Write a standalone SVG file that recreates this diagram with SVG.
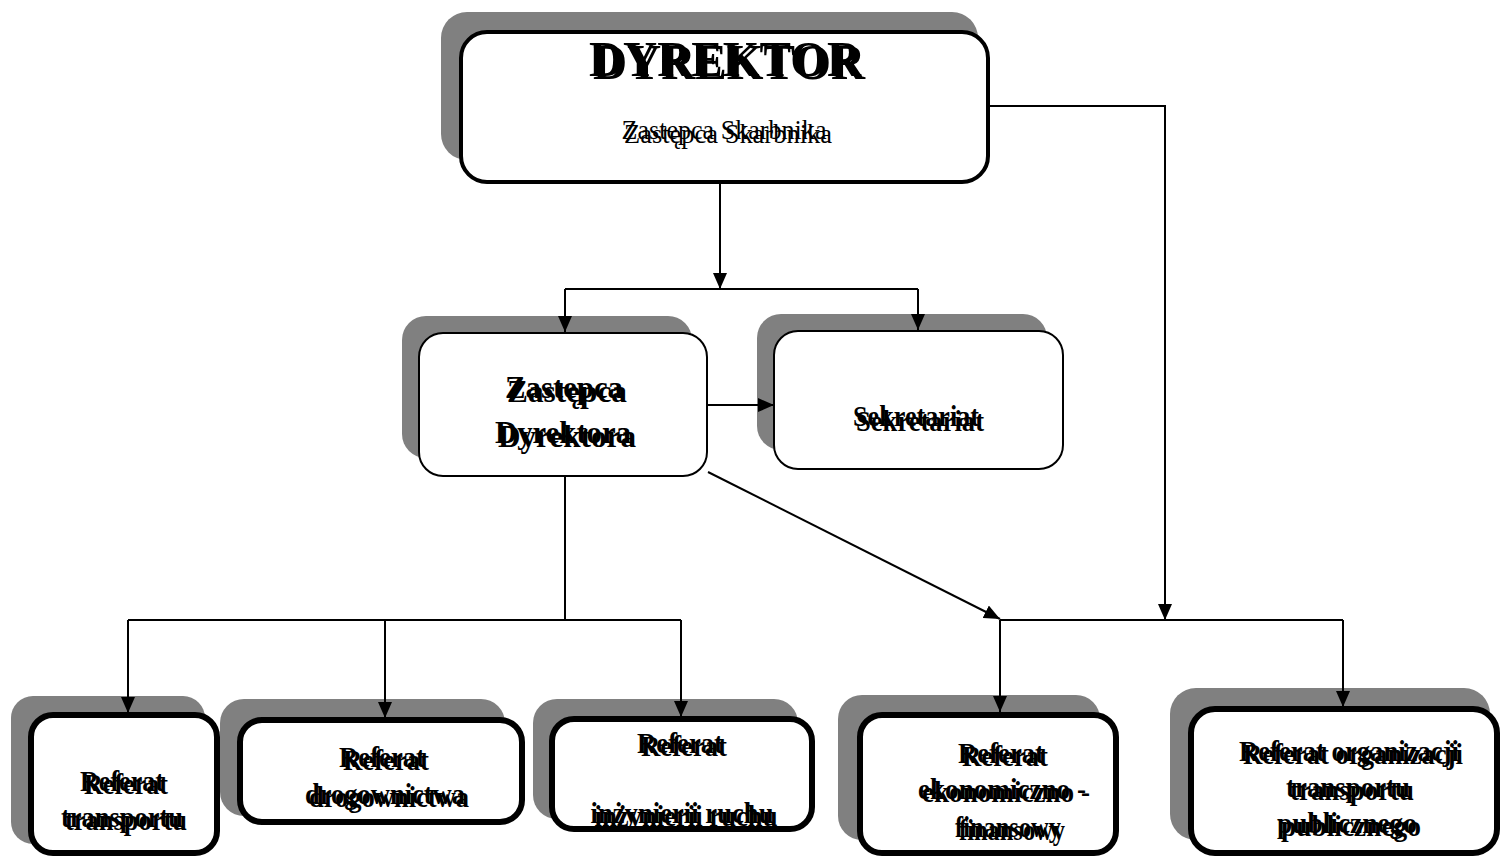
<svg xmlns="http://www.w3.org/2000/svg" width="1504" height="859" viewBox="0 0 1504 859">
<style>
.sh{fill:#808080;stroke:none}
.bx{fill:#fff;stroke:#000}
.b4{stroke-width:4}
.b2{stroke-width:2}
.b6{stroke-width:6}
.t{font-family:"Liberation Serif","Times New Roman",serif;fill:#000;text-anchor:middle}
.bd{font-weight:bold}
.ln{fill:none;stroke:#000;stroke-width:2}
</style>
<defs>
<marker id="ah" markerUnits="userSpaceOnUse" markerWidth="16" markerHeight="14" viewBox="0 0 16 14" refX="16" refY="7" orient="auto">
<path d="M0,0 L16,7 L0,14 Z" fill="#000"/>
</marker>
</defs>
<rect width="1504" height="859" fill="#fff"/>

<g id="dyrektor">
<rect class="sh" x="441" y="12" width="537" height="148" rx="26"/>
<rect class="bx b4" x="461" y="32" width="527" height="150" rx="26"/>
<text class="t bd" x="725" y="76" font-size="50" textLength="272" lengthAdjust="spacingAndGlyphs">DYREKTOR</text>
<text class="t bd" x="729" y="79" font-size="50" textLength="272" lengthAdjust="spacingAndGlyphs">DYREKTOR</text>
<text class="t" x="724" y="139" font-size="28" textLength="205" lengthAdjust="spacingAndGlyphs">Zastepca Skarbnika</text>
<text class="t" x="728" y="143" font-size="28" textLength="208" lengthAdjust="spacingAndGlyphs">Zastępca Skarbnika</text>
</g>

<g id="zastepca">
<rect class="sh" x="402" y="316" width="290" height="142" rx="24"/>
<rect class="bx b2" x="419" y="333" width="288" height="143" rx="24"/>
<text class="t bd" x="564" y="398" font-size="32" textLength="118" lengthAdjust="spacingAndGlyphs">Zastepca</text>
<text class="t bd" x="567" y="402" font-size="32" textLength="120" lengthAdjust="spacingAndGlyphs">Zastępca</text>
<text class="t bd" x="563" y="443" font-size="32" textLength="136" lengthAdjust="spacingAndGlyphs">Dyrektora</text>
<text class="t bd" x="567" y="447" font-size="32" textLength="138" lengthAdjust="spacingAndGlyphs">Dyrektora</text>
</g>

<g id="sekretariat">
<rect class="sh" x="757" y="314" width="290" height="136" rx="24"/>
<rect class="bx b2" x="774" y="331" width="289" height="138" rx="24"/>
<text class="t bd" x="916" y="426" font-size="29" textLength="126" lengthAdjust="spacingAndGlyphs">Sekretariat</text>
<text class="t bd" x="920" y="431" font-size="29" textLength="128" lengthAdjust="spacingAndGlyphs">Sekretariat</text>
</g>

<g id="ref-transportu">
<rect class="sh" x="11" y="696" width="194" height="148" rx="22"/>
<rect class="bx b6" x="31" y="715" width="186" height="138" rx="22"/>
<text class="t bd" x="122" y="791" font-size="29" textLength="84" lengthAdjust="spacingAndGlyphs">Referat</text>
<text class="t bd" x="126" y="794" font-size="29" textLength="84" lengthAdjust="spacingAndGlyphs">Referat</text>
<text class="t bd" x="122" y="827" font-size="29" textLength="122" lengthAdjust="spacingAndGlyphs">transportu</text>
<text class="t bd" x="126" y="830" font-size="29" textLength="122" lengthAdjust="spacingAndGlyphs">transportu</text>
</g>

<g id="ref-drogownictwa">
<rect class="sh" x="220" y="699" width="285" height="117" rx="24"/>
<rect class="bx b6" x="240" y="720" width="282" height="102" rx="22"/>
<text class="t bd" x="382" y="767" font-size="29" textLength="86" lengthAdjust="spacingAndGlyphs">Referat</text>
<text class="t bd" x="386" y="770" font-size="29" textLength="86" lengthAdjust="spacingAndGlyphs">Referat</text>
<text class="t bd" x="385" y="804" font-size="29" textLength="160" lengthAdjust="spacingAndGlyphs">drogownictwa</text>
<text class="t bd" x="389" y="807" font-size="29" textLength="160" lengthAdjust="spacingAndGlyphs">drogownictwa</text>
</g>

<g id="ref-inzynierii">
<rect class="sh" x="533" y="699" width="265" height="120" rx="24"/>
<rect class="bx b6" x="552" y="719" width="260" height="110" rx="22"/>
<text class="t bd" x="680" y="753" font-size="29" textLength="86" lengthAdjust="spacingAndGlyphs">Referat</text>
<text class="t bd" x="684" y="756" font-size="29" textLength="86" lengthAdjust="spacingAndGlyphs">Referat</text>
<text class="t bd" x="682" y="823" font-size="29" textLength="183" lengthAdjust="spacingAndGlyphs">inżynierii ruchu</text>
<text class="t bd" x="686" y="826" font-size="29" textLength="183" lengthAdjust="spacingAndGlyphs">inżynierii ruchu</text>
</g>

<g id="ref-ekonomiczno">
<rect class="sh" x="838" y="695" width="262" height="145" rx="24"/>
<rect class="bx b6" x="860" y="715" width="256" height="138" rx="22"/>
<text class="t bd" x="1001" y="763" font-size="29" textLength="86" lengthAdjust="spacingAndGlyphs">Referat</text>
<text class="t bd" x="1005" y="766" font-size="29" textLength="86" lengthAdjust="spacingAndGlyphs">Referat</text>
<text class="t bd" x="1002" y="799" font-size="29" textLength="168" lengthAdjust="spacingAndGlyphs">ekonomiczno -</text>
<text class="t bd" x="1006" y="802" font-size="29" textLength="168" lengthAdjust="spacingAndGlyphs">ekonomiczno -</text>
<text class="t bd" x="1008" y="837" font-size="29" textLength="106" lengthAdjust="spacingAndGlyphs">finansowy</text>
<text class="t bd" x="1012" y="840" font-size="29" textLength="106" lengthAdjust="spacingAndGlyphs">finansowy</text>
</g>

<g id="ref-organizacji">
<rect class="sh" x="1170" y="688" width="320" height="152" rx="26"/>
<rect class="bx b6" x="1191" y="709" width="306" height="144" rx="24"/>
<text class="t bd" x="1349" y="761" font-size="29" textLength="220" lengthAdjust="spacingAndGlyphs">Referat organizacji</text>
<text class="t bd" x="1353" y="764" font-size="29" textLength="220" lengthAdjust="spacingAndGlyphs">Referat organizacji</text>
<text class="t bd" x="1348" y="797" font-size="29" textLength="124" lengthAdjust="spacingAndGlyphs">transportu</text>
<text class="t bd" x="1352" y="800" font-size="29" textLength="124" lengthAdjust="spacingAndGlyphs">transportu</text>
<text class="t bd" x="1347" y="833" font-size="29" textLength="140" lengthAdjust="spacingAndGlyphs">publicznego</text>
<text class="t bd" x="1351" y="836" font-size="29" textLength="140" lengthAdjust="spacingAndGlyphs">publicznego</text>
</g>

<g id="connectors">
<path class="ln" d="M720,184 V289" marker-end="url(#ah)"/>
<path class="ln" d="M565,289 H918"/>
<path class="ln" d="M565,289 V332" marker-end="url(#ah)"/>
<path class="ln" d="M918,289 V330" marker-end="url(#ah)"/>
<path class="ln" d="M708,405 H774" marker-end="url(#ah)"/>
<path class="ln" d="M708,472 L1000,619" marker-end="url(#ah)"/>
<path class="ln" d="M990,106 H1165 V620" marker-end="url(#ah)"/>
<path class="ln" d="M1000,620 H1343"/>
<path class="ln" d="M1000,620 V712" marker-end="url(#ah)"/>
<path class="ln" d="M1343,620 V707" marker-end="url(#ah)"/>
<path class="ln" d="M565,477 V620"/>
<path class="ln" d="M128,620 H681"/>
<path class="ln" d="M128,620 V713" marker-end="url(#ah)"/>
<path class="ln" d="M385,620 V718" marker-end="url(#ah)"/>
<path class="ln" d="M681,620 V717" marker-end="url(#ah)"/>
</g>
</svg>
